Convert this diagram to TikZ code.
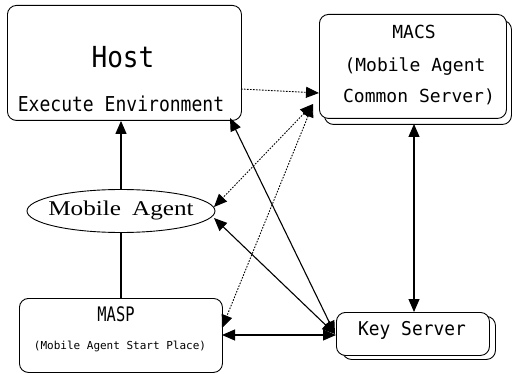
\documentclass[tikz,border=0pt]{standalone}
\usepackage{fontspec}
\setmainfont{Liberation Serif}
\newfontfamily\mono{DejaVu Sans Mono}
\usetikzlibrary{arrows.meta,shapes.geometric}
\begin{document}
\begin{tikzpicture}[x=1pt,y=-1pt,
  box/.style={draw, rounded corners=9pt, fill=white, line width=0.9pt, inner sep=0pt},
  lbl/.style={inner sep=0pt},
  tip/.tip={Triangle[length=13pt,width=11pt]},
  arr/.style={line width=1.1pt, -tip},
  darr/.style={line width=1.1pt, tip-tip},
  dotl/.style={line width=0.9pt, dash pattern=on 1.6pt off 1.4pt},
]
\useasboundingbox (0,0) rectangle (516,374);
% Host
\node[box, minimum width=234pt, minimum height=115pt, anchor=north west] (host) at (7,5) {};
\node[lbl] (hostt) at (123,57) {\scalebox{0.9}[1]{\mono\fontsize{29}{29}\selectfont Host}};
\node[lbl] (hoste) at (121,104) {\scalebox{0.88}[1]{\mono\fontsize{20.5}{20.5}\selectfont Execute Environment}};
% MACS
\node[box, minimum width=187pt, minimum height=104pt, anchor=north west] (macsb) at (324,20) {};
\node[box, minimum width=187pt, minimum height=104pt, anchor=north west] (macs) at (319,14) {};
\node[lbl] (macs1) at (414,32) {\mono\fontsize{18}{18}\selectfont MACS};
\node[lbl] (macs2) at (415,67) {\mono\fontsize{18}{18}\selectfont (Mobile Agent};
\node[lbl] (macs3) at (419,97) {\mono\fontsize{18}{18}\selectfont Common Server)};
% Mobile Agent
\node[draw, ellipse, line width=0.9pt, minimum width=188pt, minimum height=43pt, inner sep=0pt] (ma) at (121,211) {};
\node[lbl] (mat) at (121,210) {\scalebox{1.2}[1]{\fontsize{21}{21}\selectfont Mobile\hspace{4pt} Agent}};
% MASP
\node[box, minimum width=203pt, minimum height=74pt, anchor=north west] (masp) at (19,298) {};
\node[lbl] (masp1) at (116,314) {\scalebox{0.77}[1]{\mono\fontsize{20}{20}\selectfont MASP}};
\node[lbl] (masp2) at (120,346) {\mono\fontsize{11}{11}\selectfont (Mobile Agent Start Place)};
% Key Server
\node[box, minimum width=153pt, minimum height=43pt, anchor=north west] (ksb) at (342,316) {};
\node[box, minimum width=153pt, minimum height=43pt, anchor=north west] (ks) at (336,312) {};
\node[lbl] (kst) at (412,330) {\scalebox{0.94}[1]{\mono\fontsize{19}{19}\selectfont Key Server}};
% connection points
\coordinate (h1) at (241,89);
\coordinate (m1) at (319,93);
\coordinate (m2) at (313,104);
\coordinate (ma1) at (214,207);
\coordinate (ma2) at (214,218);
\coordinate (p1) at (222,328);
\coordinate (p2) at (222,335);
\coordinate (h2) at (230,118);
\coordinate (k1) at (335,334);
\coordinate (k2) at (336,335);
\coordinate (m3) at (414,124);
\coordinate (k3) at (414,312);
% connectors
\draw[arr] (ma.north) -- (host.south -| ma.north);
\draw[line width=1.1pt] (ma.south) -- (masp.north -| ma.south);
\draw[dotl, -tip] (h1) -- (m1);
\draw[dotl, tip-tip] (m2) -- (ma1);
\draw[dotl, tip-tip] (m2) -- (p1);
\draw[darr] (h2) -- (k1);
\draw[darr] (ma2) -- (k1);
\draw[darr] (p2) -- (k2);
\draw[darr] (m3) -- (k3);
\end{tikzpicture}
\end{document}
